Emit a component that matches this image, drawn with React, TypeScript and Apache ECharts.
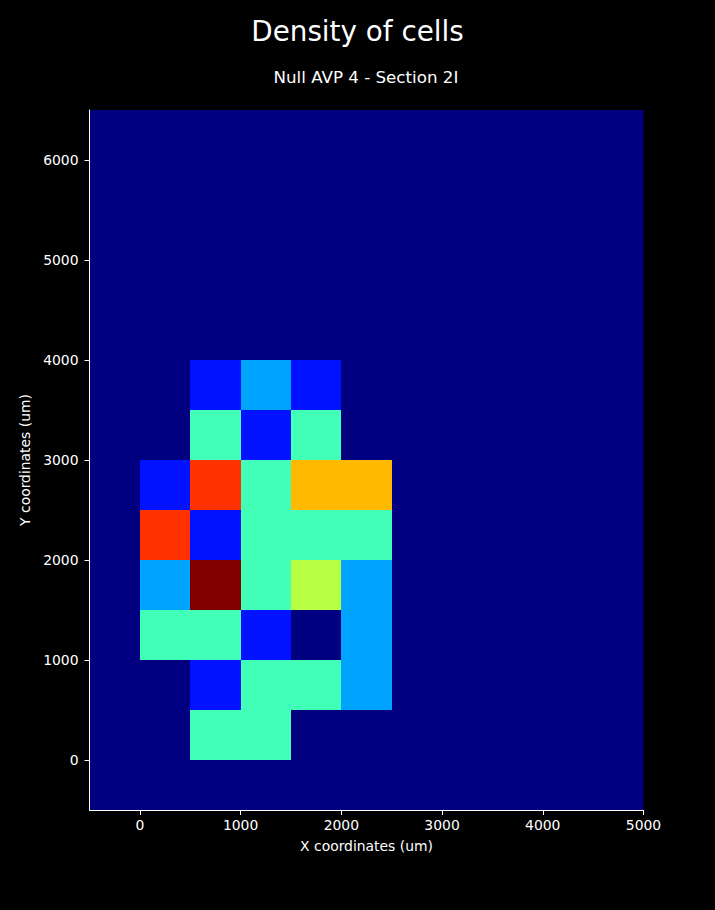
import React, { useEffect, useRef } from "react";
import * as echarts from "echarts";

// Bin lower-left corners (um) and counts
const binSize = 500;
const xBins = [0, 500, 1000, 1500, 2000];
const yBins = [3500, 3000, 2500, 2000, 1500, 1000, 500, 0];
const row3500 = [0, 1, 2, 1, 0];
const row3000 = [0, 3, 1, 3, 0];
const row2500 = [1, 6, 3, 5, 5];
const row2000 = [6, 1, 3, 3, 3];
const row1500 = [2, 7, 3, 4, 2];
const row1000 = [3, 3, 1, 0, 2];
const row500 = [0, 1, 3, 3, 2];
const row0 = [0, 3, 3, 0, 0];
const counts = [row3500, row3000, row2500, row2000, row1500, row1000, row500, row0];
const vmin = 0;
const vmax = 7;

const xTicks = [0, 1000, 2000, 3000, 4000, 5000];
const yTicks = [0, 1000, 2000, 3000, 4000, 5000, 6000];

const FONT = "DejaVu Sans";

type Seg = [number, number][];
const jetR: Seg = [[0, 0], [0.35, 0], [0.66, 1], [0.89, 1], [1, 0.5]];
const jetG: Seg = [[0, 0], [0.125, 0], [0.375, 1], [0.64, 1], [0.91, 0], [1, 0]];
const jetB: Seg = [[0, 0.5], [0.11, 1], [0.34, 1], [0.65, 0], [1, 0]];
function interp(seg: Seg, t: number) {
  for (let i = 1; i < seg.length; i++) {
    if (t <= seg[i][0]) {
      const [t0, v0] = seg[i - 1];
      const [t1, v1] = seg[i];
      return v0 + ((t - t0) / (t1 - t0)) * (v1 - v0);
    }
  }
  return seg[seg.length - 1][1];
}
function jet(v: number) {
  const t = Math.max(0, Math.min(1, (v - vmin) / (vmax - vmin)));
  const c = (x: number) => Math.round(x * 255);
  return `rgb(${c(interp(jetR, t))},${c(interp(jetG, t))},${c(interp(jetB, t))})`;
}

export default function App() {
  const ref = useRef<HTMLDivElement>(null);
  useEffect(() => {
    if (!ref.current) return;
    const chart = echarts.init(ref.current, null, { renderer: "svg" });
    const data: number[][] = [];
    yBins.forEach((y, r) => {
      xBins.forEach((x, c) => {
        data.push([x, y, counts[r][c]]);
      });
    });
    const axisCommon = {
      axisLine: { show: true, onZero: false, lineStyle: { color: "#ffffff", width: 1 } },
      axisTick: { show: true, inside: false, length: 5, lineStyle: { color: "#ffffff", width: 1 } },
      splitLine: { show: false },
      nameTextStyle: { color: "#ffffff", fontFamily: FONT, fontSize: 13.9 },
    };
    chart.setOption({
      animation: false,
      backgroundColor: "#000000",
      title: [
        {
          text: "Density of cells",
          left: "center",
          top: 12,
          textStyle: { color: "#ffffff", fontFamily: FONT, fontSize: 27.8, fontWeight: "normal" },
        },
        {
          text: "Null AVP 4 - Section 2I",
          left: 268.5,
          top: 63,
          textStyle: { color: "#ffffff", fontFamily: FONT, fontSize: 16.7, fontWeight: "normal" },
        },
      ],
      grid: {
        left: 89.5,
        right: 71.5,
        top: 110,
        bottom: 100,
        show: true,
        backgroundColor: "#000080",
        borderWidth: 0,
      },
      xAxis: {
        type: "value",
        min: -500,
        max: 5000,
        name: "X coordinates (um)",
        nameLocation: "middle",
        nameGap: 29,
        ...axisCommon,
        axisTick: { ...axisCommon.axisTick, customValues: xTicks },
        axisLabel: {
          color: "#ffffff",
          fontFamily: FONT,
          fontSize: 13.9,
          margin: 8,
          customValues: xTicks,
          formatter: (v: number) => String(v),
        },
      },
      yAxis: {
        type: "value",
        min: -500,
        max: 6500,
        name: "Y coordinates (um)",
        nameLocation: "middle",
        nameGap: 37,
        ...axisCommon,
        axisTick: { ...axisCommon.axisTick, customValues: yTicks },
        axisLabel: {
          color: "#ffffff",
          fontFamily: FONT,
          fontSize: 13.9,
          margin: 11,
          customValues: yTicks,
          formatter: (v: number) => String(v),
        },
      },
      series: [
        {
          type: "custom",
          coordinateSystem: "cartesian2d",
          encode: { x: 0, y: 1 },
          clip: true,
          data,
          renderItem: (params: any, api: any) => {
            const x0 = api.value(0);
            const y0 = api.value(1);
            const v = api.value(2);
            const p1 = api.coord([x0, y0 + binSize]);
            const p2 = api.coord([x0 + binSize, y0]);
            const x1 = Math.round(p1[0]);
            const y1 = Math.round(p1[1]);
            const x2 = Math.round(p2[0]);
            const y2 = Math.round(p2[1]);
            return {
              type: "rect",
              shape: { x: x1, y: y1, width: x2 - x1, height: y2 - y1 },
              style: { fill: jet(v), stroke: null },
            };
          },
        },
      ],
    });
    return () => chart.dispose();
  }, []);
  return (
    <div
      ref={ref}
      style={{ position: "absolute", left: 0, top: 0, width: 715, height: 910, background: "#000" }}
    />
  );
}
